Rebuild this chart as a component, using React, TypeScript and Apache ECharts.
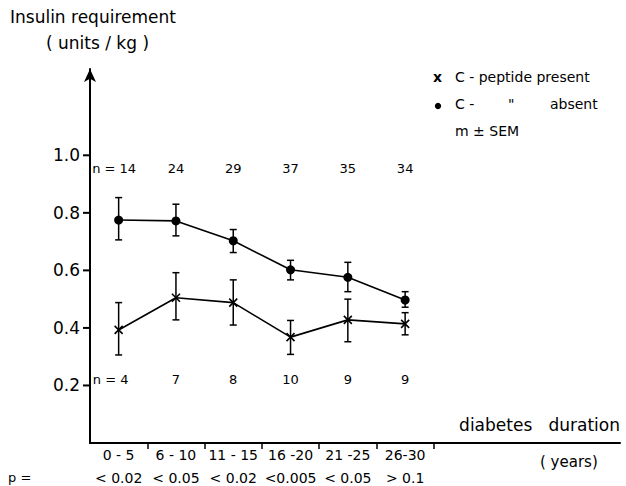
import React, { useEffect, useRef } from "react";
import * as echarts from "echarts";

const categories = ["0 - 5", "6 - 10", "11 - 15", "16 -20", "21 -25", "26-30"];
const pValues = ["< 0.02", "< 0.05", "< 0.02", "<0.005", "< 0.05", "> 0.1"];
const absentMean = [0.775, 0.772, 0.703, 0.602, 0.576, 0.497];
const absentLow = [0.706, 0.72, 0.662, 0.567, 0.526, 0.472];
const absentHigh = [0.853, 0.83, 0.742, 0.635, 0.628, 0.526];
const presentMean = [0.393, 0.505, 0.488, 0.368, 0.428, 0.414];
const presentLow = [0.306, 0.428, 0.41, 0.308, 0.352, 0.376];
const presentHigh = [0.488, 0.592, 0.567, 0.426, 0.5, 0.453];
const nAbsent = [14, 24, 29, 37, 35, 34];
const nPresent = [4, 7, 8, 10, 9, 9];
const yTicks = [0.2, 0.4, 0.6, 0.8, 1.0];

const FONT = "DejaVu Sans";
const BLACK = "#000";

export default function App() {
  const ref = useRef<HTMLDivElement>(null);
  useEffect(() => {
    if (!ref.current) return;
    const chart = echarts.init(ref.current, null, { renderer: "svg" });
    const xs = categories.map((_, i) => i + 0.5);
    const errData = (lo: number[], hi: number[]) => xs.map((x, i) => [x, lo[i], hi[i]]);
    const renderErr = (params: any, api: any) => {
      const x = api.value(0);
      const top = api.coord([x, api.value(2)]);
      const bot = api.coord([x, api.value(1)]);
      const w = 3.5;
      const style = { stroke: BLACK, lineWidth: 1.5 };
      return {
        type: "group",
        children: [
          { type: "line", shape: { x1: top[0], y1: top[1], x2: bot[0], y2: bot[1] }, style },
          { type: "line", shape: { x1: top[0] - w, y1: top[1], x2: top[0] + w, y2: top[1] }, style },
          { type: "line", shape: { x1: bot[0] - w, y1: bot[1], x2: bot[0] + w, y2: bot[1] }, style },
        ],
      };
    };
    const renderTick = (params: any, api: any) => {
      const p = api.coord([0, api.value(1)]);
      return {
        type: "rect",
        shape: { x: p[0] - 7, y: p[1] - 1, width: 7, height: 2 },
        style: { fill: BLACK },
      };
    };
    const nLabels = (vals: number[], y: number, firstOffset: number) =>
      vals.map((v, i) => ({
        value: [xs[i], y],
        label: {
          formatter: i === 0 ? "n = " + v : String(v),
          offset: i === 0 ? [firstOffset, 0] : [0, 0],
        },
      }));
    const labelBase = {
      show: true,
      position: "inside",
      color: BLACK,
      opacity: 1,
      fontFamily: FONT,
      fontSize: 13,
    };
    const gridBase = { containLabel: false, outerBoundsMode: "none" };
    chart.setOption({
      animation: false,
      backgroundColor: "#fff",
      grid: [
        { left: 90, right: 6, top: 69, bottom: 43, ...gridBase },
        { left: 90, right: 6, top: 155.3, bottom: 43, ...gridBase },
      ],
      xAxis: [
        {
          type: "value",
          gridIndex: 0,
          min: 0,
          max: 9.25,
          splitLine: { show: false },
          axisLine: { show: true, lineStyle: { color: BLACK, width: 2 } },
          axisTick: { show: true, customValues: [1, 2, 3, 4, 5, 6], length: 6, lineStyle: { color: BLACK, width: 1.5 } },
          axisLabel: {
            customValues: xs,
            formatter: (v: number) => {
              const i = Math.floor(v);
              return categories[i] + "\n" + pValues[i];
            },
            color: BLACK,
            fontFamily: FONT,
            fontSize: 14,
            lineHeight: 23,
            margin: 0,
          },
        },
        { type: "value", gridIndex: 1, min: 0, max: 9.25, show: false },
      ],
      yAxis: [
        {
          type: "value",
          gridIndex: 0,
          min: 0,
          max: 1.3,
          splitLine: { show: false },
          axisLine: {
            show: true,
            symbol: ["none", "arrow"],
            symbolSize: [9, 13],
            lineStyle: { color: BLACK, width: 2 },
          },
          axisTick: { show: false },
          axisLabel: { show: false },
        },
        {
          type: "value",
          gridIndex: 1,
          min: 0,
          max: 1.0,
          interval: 0.2,
          splitLine: { show: false },
          axisLine: { show: false },
          axisTick: { show: false },
          axisLabel: {
            showMinLabel: false,
            formatter: (v: number) => (v === 0 ? "" : v.toFixed(1)),
            color: BLACK,
            fontFamily: FONT,
            fontSize: 17,
            margin: 10,
          },
        },
      ],
      series: [
        {
          type: "custom",
          renderItem: renderTick,
          data: yTicks.map((v) => [0, v]),
          encode: { x: 0, y: 1 },
          clip: false,
          silent: true,
          z: 10,
        },
        {
          type: "custom",
          renderItem: renderErr,
          data: errData(absentLow, absentHigh),
          encode: { x: 0, y: [1, 2] },
          z: 1,
        },
        {
          type: "custom",
          renderItem: renderErr,
          data: errData(presentLow, presentHigh),
          encode: { x: 0, y: [1, 2] },
          z: 1,
        },
        {
          type: "line",
          data: xs.map((x, i) => [x, absentMean[i]]),
          symbol: "circle",
          symbolSize: 9,
          itemStyle: { color: BLACK },
          lineStyle: { color: BLACK, width: 1.6 },
          z: 3,
        },
        {
          type: "line",
          data: xs.map((x, i) => [x, presentMean[i]]),
          symbol: "path://M0,0L10,10M10,0L0,10",
          symbolSize: 8,
          itemStyle: { color: "rgba(0,0,0,0)", borderColor: BLACK, borderWidth: 1.6 },
          lineStyle: { color: BLACK, width: 1.6 },
          z: 3,
        },
        {
          type: "scatter",
          symbolSize: 0,
          silent: true,
          itemStyle: { opacity: 1, color: BLACK },
          label: labelBase,
          data: nLabels(nAbsent, 0.953, -4.5),
        },
        {
          type: "scatter",
          symbolSize: 0,
          silent: true,
          itemStyle: { opacity: 1, color: BLACK },
          label: labelBase,
          data: nLabels(nPresent, 0.219, -8),
        },
      ],
      graphic: [
        { type: "text", left: 10, top: 8, style: { text: "Insulin requirement", font: `17px ${FONT}`, fill: BLACK } },
        { type: "text", left: 46, top: 34, style: { text: "( units / kg )", font: `17px ${FONT}`, fill: BLACK } },
        { type: "text", left: 433, top: 70, style: { text: "x", font: `bold 14px ${FONT}`, fill: BLACK } },
        { type: "text", left: 455, top: 70, style: { text: "C - peptide present", font: `14px ${FONT}`, fill: BLACK } },
        { type: "circle", shape: { cx: 438, cy: 106, r: 3.2 }, style: { fill: BLACK } },
        { type: "text", left: 455, top: 97, style: { text: "C -", font: `14px ${FONT}`, fill: BLACK } },
        { type: "text", left: 508, top: 97, style: { text: "\"", font: `14px ${FONT}`, fill: BLACK } },
        { type: "text", left: 550, top: 97, style: { text: "absent", font: `14px ${FONT}`, fill: BLACK } },
        { type: "text", left: 455, top: 124, style: { text: "m ± SEM", font: `14px ${FONT}`, fill: BLACK } },
        { type: "text", right: 6, top: 416, style: { text: "diabetes   duration", font: `17px ${FONT}`, fill: BLACK } },
        { type: "text", left: 540, top: 454, style: { text: "( years)", font: `15px ${FONT}`, fill: BLACK } },
        { type: "text", left: 8, top: 471, style: { text: "p =", font: `13px ${FONT}`, fill: BLACK } },
      ],
    });
    return () => chart.dispose();
  }, []);
  return (
    <div
      ref={ref}
      style={{ position: "fixed", left: 0, top: 0, width: 626, height: 486 }}
    />
  );
}
